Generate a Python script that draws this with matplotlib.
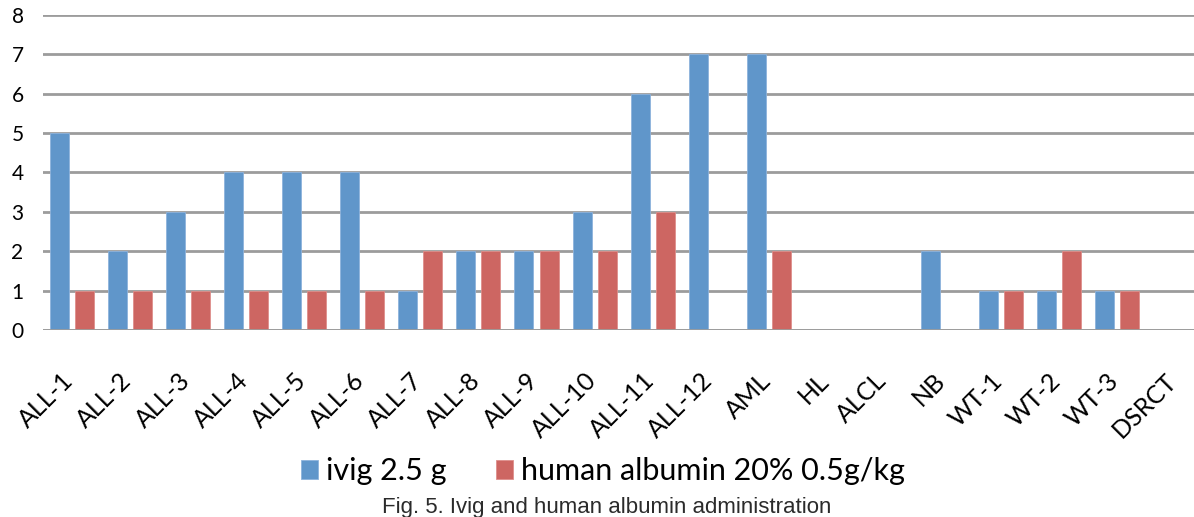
import matplotlib
matplotlib.use('Agg')
import matplotlib.pyplot as plt
import matplotlib.transforms as mtransforms
import numpy as np

# Data
categories = ['ALL-1', 'ALL-2', 'ALL-3', 'ALL-4', 'ALL-5', 'ALL-6', 'ALL-7', 'ALL-8',
              'ALL-9', 'ALL-10', 'ALL-11', 'ALL-12', 'AML', 'HL', 'ALCL', 'NB',
              'WT-1', 'WT-2', 'WT-3', 'DSRCT']
ivig = [5, 2, 3, 4, 4, 4, 1, 2, 2, 3, 6, 7, 7, 0, 0, 2, 1, 1, 1, 0]
albumin = [1, 1, 1, 1, 1, 1, 2, 2, 2, 2, 3, 0, 2, 0, 0, 0, 1, 2, 1, 0]
yticks = [0, 1, 2, 3, 4, 5, 6, 7, 8]

blue = '#6096CA'
red = '#CD6662'
grid_c = '#9C9C9C'

plt.rcParams['font.family'] = ['Lato', 'DejaVu Sans']

fig = plt.figure(figsize=(11.94, 5.17), dpi=100)
# axes runs past the right edge, like the cropped original
ax = fig.add_axes([43 / 1194, 187 / 517, 20 * 58.06 / 1194, 315 / 517])

x = np.arange(len(categories))
w = 0.327
off = 0.216
ax.bar(x - off, ivig, width=w, color=blue, edgecolor='#8DB3DC', linewidth=0.6,
       label='ivig 2.5 g', zorder=3)
ax.bar(x + off, albumin, width=w, color=red, edgecolor='#DE8F8B', linewidth=0.6,
       label='human albumin 20% 0.5g/kg', zorder=3)

ax.set_xlim(-0.5, len(categories) - 0.5)
ax.set_ylim(0, 8)
ax.set_yticks(yticks)
ax.yaxis.grid(True, color=grid_c, linewidth=2.0, zorder=0)
ax.set_axisbelow(True)
for s in ['top', 'right', 'left', 'bottom']:
    ax.spines[s].set_visible(False)
ax.axhline(0, color=grid_c, linewidth=2.0, zorder=4)

ax.tick_params(axis='y', length=0, pad=14, labelsize=15)
ax.tick_params(axis='x', length=0, pad=28)
ax.set_xticks(x)
ax.set_xticklabels(categories, rotation=45, ha='right', va='top', fontsize=18)
shift = mtransforms.ScaledTranslation(6 / 100, 0, fig.dpi_scale_trans)
for lab in ax.get_xticklabels():
    lab.set_transform(lab.get_transform() + shift)

fig.legend(loc='center', bbox_to_anchor=(0.505, 46 / 517), ncol=2, frameon=False,
           fontsize=22, handlelength=0.56, handleheight=0.56, handletextpad=0.28,
           columnspacing=1.6)

fig.text(0.508, 10 / 517, 'Fig. 5. Ivig and human albumin administration',
         ha='center', va='center', fontsize=16, color='#2B2B2B',
         family=['Liberation Sans', 'DejaVu Sans'])

fig.savefig('out.png', dpi=100)
